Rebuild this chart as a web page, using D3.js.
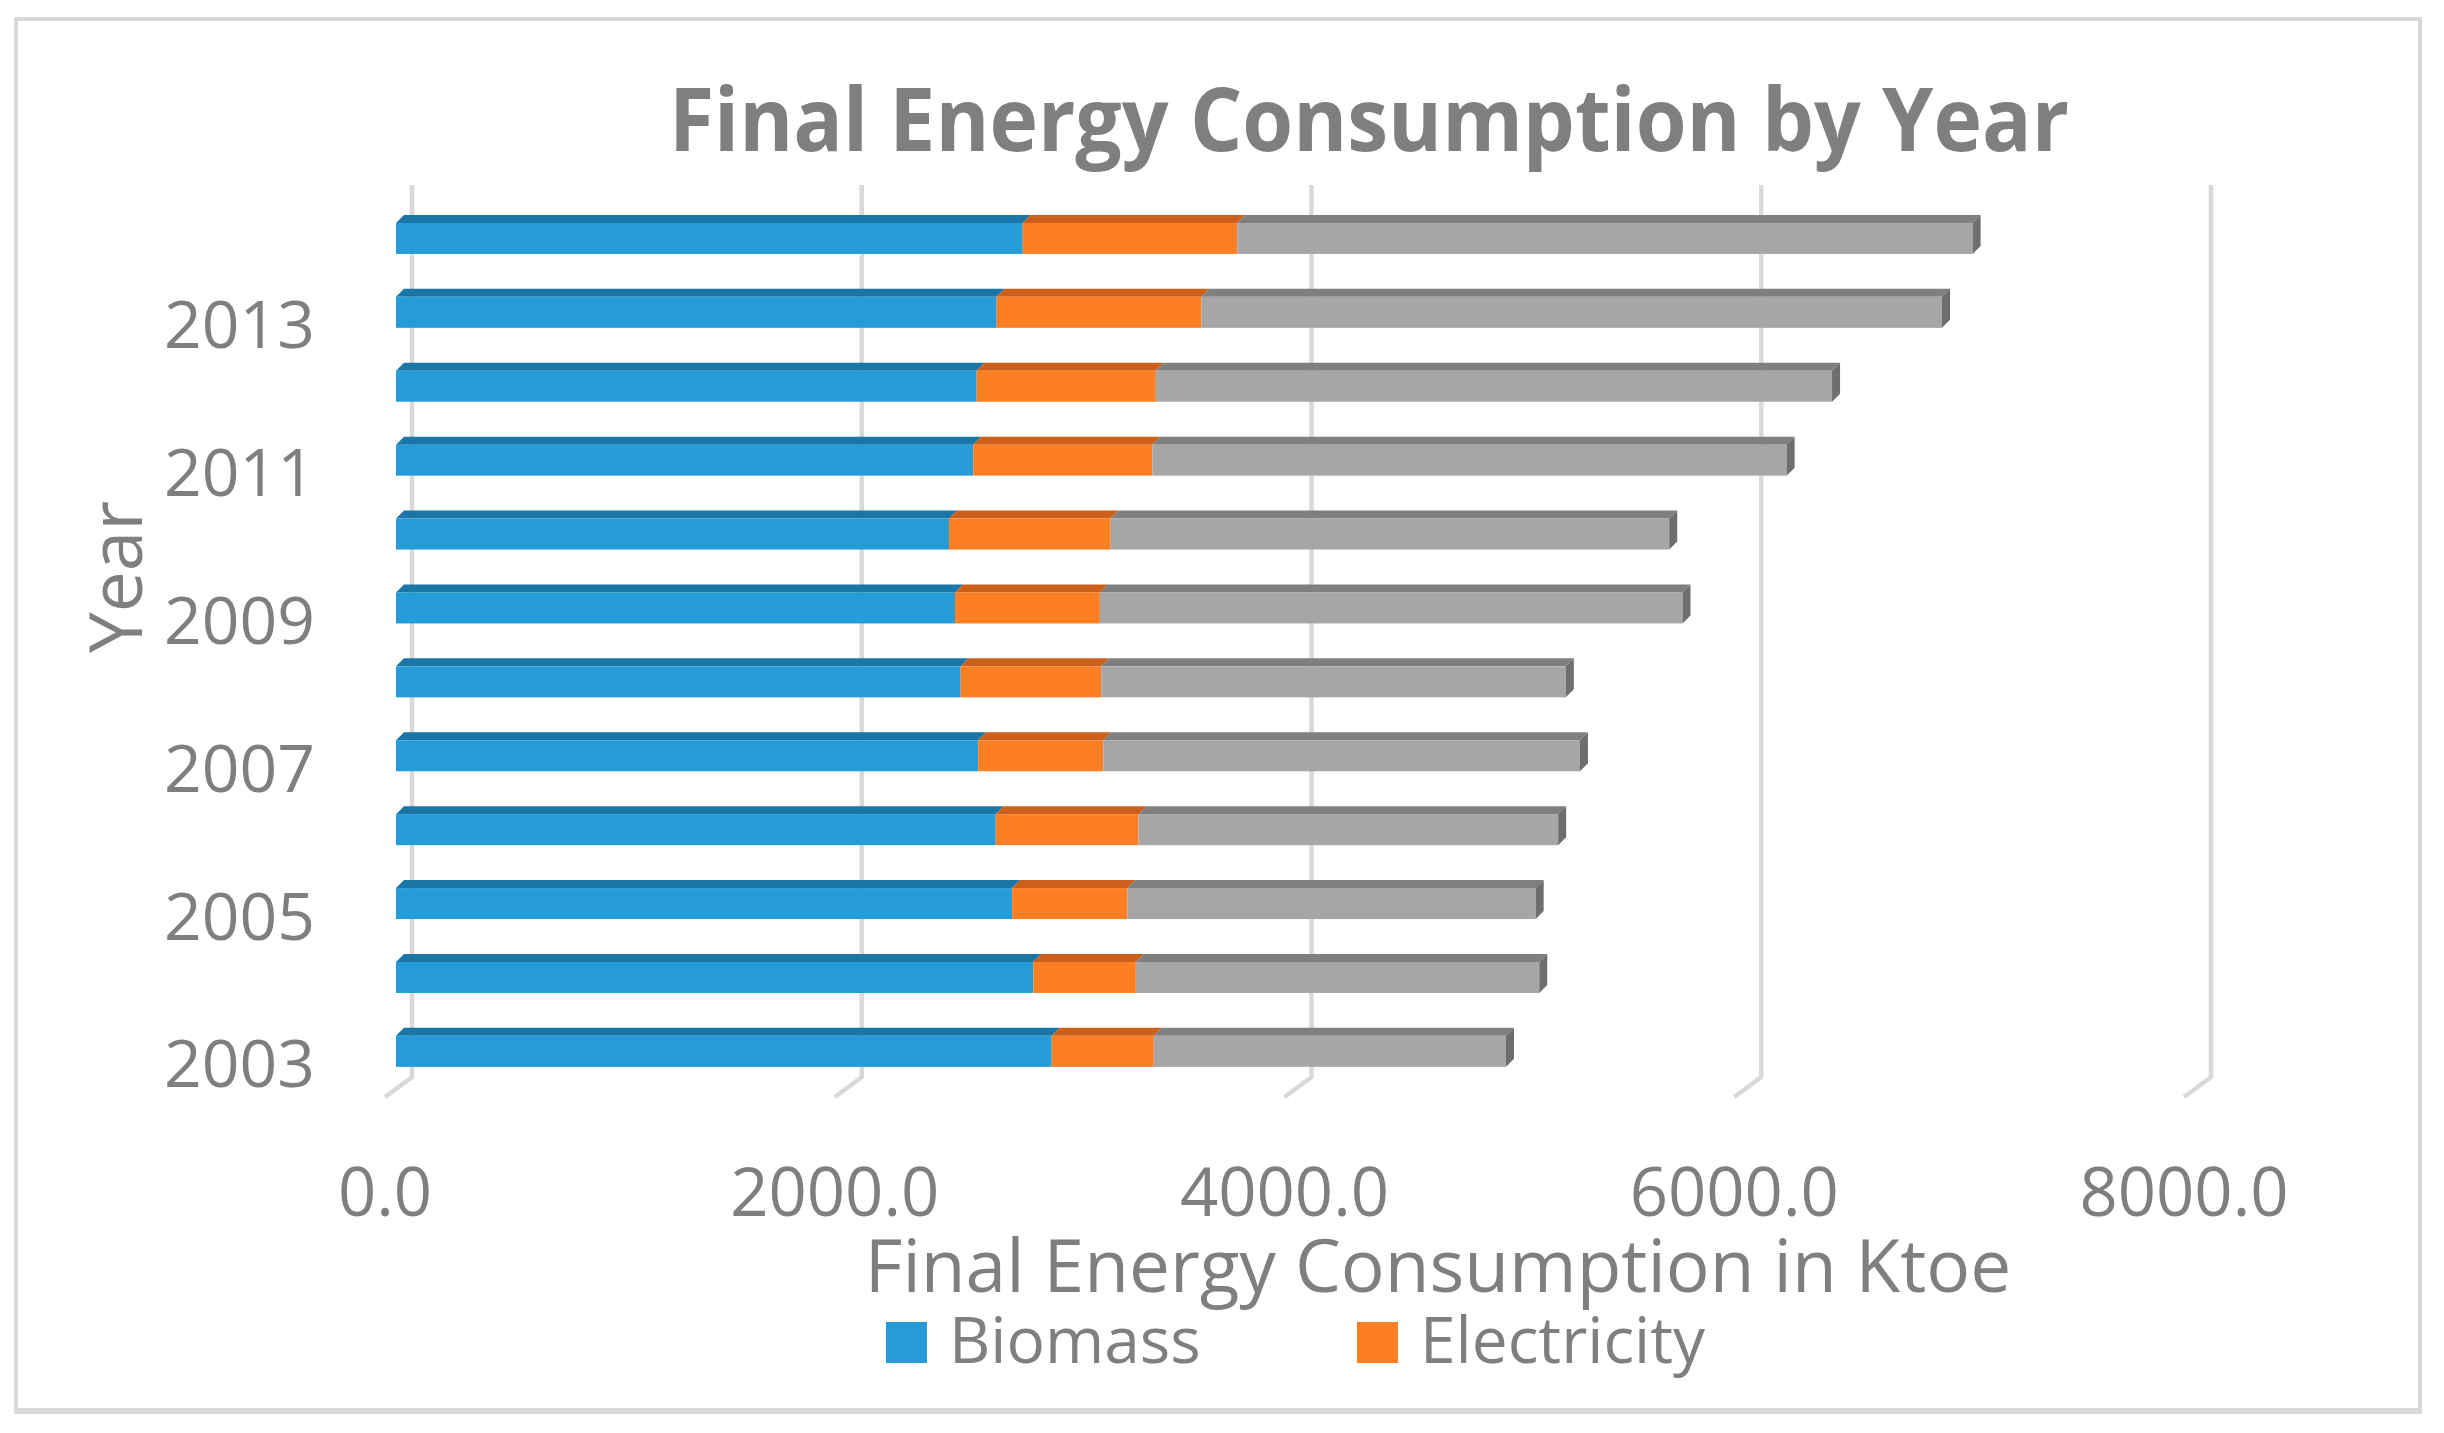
<!DOCTYPE html>
<html>
<head>
<meta charset="utf-8">
<script src="https://cdn.jsdelivr.net/npm/d3@7/dist/d3.min.js"></script>
<style>
    body { margin: 0; background: #fff; }
    text { font-family: "Open Sans", "Noto Sans", sans-serif; fill: #7f7f7f; }
</style>
</head>
<body>
<svg id="chart" width="2444" height="1433"></svg>
<script>
// values, Ktoe
const years = [2003, 2004, 2005, 2006, 2007, 2008, 2009, 2010, 2011, 2012, 2013, 2014];
const biomass = [2916, 2834, 2740, 2667, 2589, 2511, 2486, 2459, 2567, 2582, 2671, 2787];
const electricity = [454, 456, 513, 635, 556, 625, 644, 719, 796, 797, 911, 954];
const other = [1566, 1794, 1815, 1866, 2120, 2066, 2591, 2484, 2821, 3007, 3293, 3270];
const seriesNames = ["Biomass", "Electricity", "Other"];
const legendNames = ["Biomass", "Electricity"];
const xTicks = [0, 2000, 4000, 6000, 8000];
const yLabelYears = [2003, 2005, 2007, 2009, 2011, 2013];

const colors = {
    Biomass: { front: "#259bd8", top: "#1a76a6" },
    Electricity: { front: "#fd7f23", top: "#cc601b" },
    Other: { front: "#a6a6a6", top: "#7f7f7f", side: "#6e6e6e" }
};

let svg = d3.select("#chart");
let depth = { dx: 8, dy: -8 },
    floor = { dx: -27, dy: 20 },
    gridTop = 185,
    gridBottom = 1077;

// back wall, bar front and floor front share the same value scale, just shifted
let xBack = d3.scaleLinear().domain([0, 8000]).range([412, 2211]),
    xFront = d3.scaleLinear().domain([0, 8000]).range([396, 2195]),
    xFloor = d3.scaleLinear().domain([0, 8000]).range([385, 2184]);

let y = d3.scaleBand()
    .domain(years.slice().reverse())
    .range([201.5, 201.5 + 73.9 * 12])
    .paddingInner(0.5805)
    .paddingOuter(0.29);

let rows = years.map((yr, i) => ({ year: yr, Biomass: biomass[i], Electricity: electricity[i], Other: other[i] }));
let stacked = d3.stack().keys(seriesNames)(rows);

// frame
svg.append("rect")
    .attr("x", 16).attr("y", 19)
    .attr("width", 2404).attr("height", 1392)
    .attr("fill", "#fff")
    .attr("stroke", "#d9d9d9")
    .attr("stroke-width", 4);
svg.append("line")
    .attr("x1", 14).attr("x2", 2422)
    .attr("y1", 1411).attr("y2", 1411)
    .attr("stroke", "#d9d9d9")
    .attr("stroke-width", 6);

// title
svg.append("text")
    .attr("x", 1369)
    .attr("y", 151)
    .attr("text-anchor", "middle")
    .attr("textLength", 1400)
    .attr("lengthAdjust", "spacingAndGlyphs")
    .style("font-size", "87px")
    .style("font-weight", "bold")
    .text("Final Energy Consumption by Year");

// gridlines with their slanted floor foot
svg.append("g")
    .selectAll("path")
    .data(xTicks)
    .enter()
    .append("path")
    .attr("fill", "none")
    .attr("stroke", "#d9d9d9")
    .attr("stroke-width", 4.5)
    .attr("d", d => {
        let x = xBack(d);
        return "M" + x + "," + gridTop + "L" + x + "," + gridBottom
            + "L" + (x + floor.dx) + "," + (gridBottom + floor.dy);
    });

// 3d stacked bars
let bars = svg.append("g");
stacked.forEach((layer, li) => {
    let c = colors[layer.key],
        last = li === stacked.length - 1;
    let g = bars.append("g");

    // top face
    g.selectAll("path.top")
        .data(layer)
        .enter()
        .append("path")
        .attr("class", "top")
        .attr("fill", c.top)
        .attr("d", d => {
            let x0 = xFront(d[0]), x1 = xFront(d[1]), yt = y(d.data.year);
            return "M" + x0 + "," + yt
                + "L" + (x0 + depth.dx) + "," + (yt + depth.dy)
                + "L" + (x1 + depth.dx) + "," + (yt + depth.dy)
                + "L" + x1 + "," + yt + "Z";
        });

    // front face
    g.selectAll("rect")
        .data(layer)
        .enter()
        .append("rect")
        .attr("x", d => xFront(d[0]))
        .attr("y", d => y(d.data.year))
        .attr("width", d => xFront(d[1]) - xFront(d[0]))
        .attr("height", y.bandwidth())
        .attr("fill", c.front);

    // right end face, only visible on the last segment
    if (last) {
        g.selectAll("path.side")
            .data(layer)
            .enter()
            .append("path")
            .attr("class", "side")
            .attr("fill", c.side)
            .attr("d", d => {
                let x1 = xFront(d[1]), yt = y(d.data.year), yb = yt + y.bandwidth();
                return "M" + x1 + "," + yt
                    + "L" + (x1 + depth.dx) + "," + (yt + depth.dy)
                    + "L" + (x1 + depth.dx) + "," + (yb + depth.dy)
                    + "L" + x1 + "," + yb + "Z";
            });
    }
});

// category labels, every other year
svg.append("g")
    .selectAll("text")
    .data(yLabelYears)
    .enter()
    .append("text")
    .attr("x", 315)
    .attr("y", d => y(d) + y.bandwidth() / 2 + 10)
    .attr("text-anchor", "end")
    .attr("dominant-baseline", "central")
    .style("font-size", "66px")
    .text(d => d);

svg.append("text")
    .attr("transform", "translate(142,577) rotate(-90)")
    .attr("text-anchor", "middle")
    .style("font-size", "73px")
    .text("Year");

// value labels on the floor front
svg.append("g")
    .selectAll("text")
    .data(xTicks)
    .enter()
    .append("text")
    .attr("x", d => xFloor(d))
    .attr("y", 1216)
    .attr("text-anchor", "middle")
    .style("font-size", "67px")
    .text(d => d3.format(".1f")(d));

svg.append("text")
    .attr("x", 1438)
    .attr("y", 1292)
    .attr("text-anchor", "middle")
    .style("font-size", "73px")
    .text("Final Energy Consumption in Ktoe");

// legend (third series is not listed)
let legendX = [886, 1357];
let legend = svg.append("g")
    .selectAll("g")
    .data(legendNames)
    .enter()
    .append("g")
    .attr("transform", (d, i) => "translate(" + legendX[i] + ",1322)");
legend.append("rect")
    .attr("width", 41)
    .attr("height", 41)
    .attr("fill", d => colors[d].front);
legend.append("text")
    .attr("x", 63)
    .attr("y", 41)
    .style("font-size", "64px")
    .text(d => d);
</script>
</body>
</html>
